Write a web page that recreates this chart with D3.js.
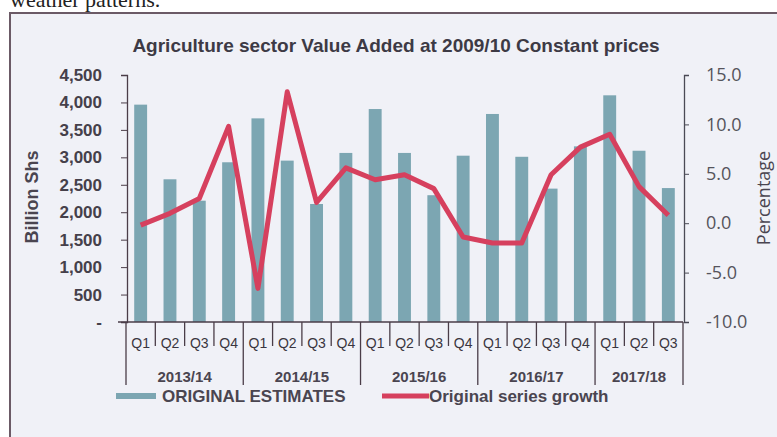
<!DOCTYPE html>
<html><head><meta charset="utf-8">
<script src="https://cdn.jsdelivr.net/npm/d3@7"></script>
<style>html,body{margin:0;padding:0;background:#fff;}svg{display:block;}</style>
</head><body>
<svg id="c" width="777" height="437"></svg>
<script>
const quarters = ["Q1","Q2","Q3","Q4","Q1","Q2","Q3","Q4","Q1","Q2","Q3","Q4","Q1","Q2","Q3","Q4","Q1","Q2","Q3"];
const years = ["2013/14","2013/14","2013/14","2013/14","2014/15","2014/15","2014/15","2014/15","2015/16","2015/16","2015/16","2015/16","2016/17","2016/17","2016/17","2016/17","2017/18","2017/18","2017/18"];
const originalEstimates = [3960,2600,2210,2910,3710,2940,2150,3080,3880,3080,2310,3030,3790,3010,2430,3200,4130,3120,2440];
const seriesGrowth = [-0.2,1.0,2.5,9.8,-6.6,13.3,2.1,5.6,4.4,4.9,3.5,-1.4,-2.0,-2.0,4.9,7.7,9.0,3.7,0.8];
const leftTicks = [0,500,1000,1500,2000,2500,3000,3500,4000,4500];
const rightTicks = [-10,-5,0,5,10,15];

const svg = d3.select("#c");
const W = 777, H = 437;
const x0 = 126, x1 = 683, yTop = 75, yBot = 322;
const SANS = "Liberation Sans, Arial, sans-serif";

// page text above frame
svg.append("text").attr("x", 10).attr("y", 7).attr("font-family", "Liberation Serif, serif")
  .attr("font-size", 22).attr("fill", "#222").text("weather patterns.");
// chart frame
svg.append("rect").attr("x", 10).attr("y", 13).attr("width", W).attr("height", H)
  .attr("fill", "#f0f1f7").attr("stroke", "#6b5a66").attr("stroke-width", 2);

// title
svg.append("text").attr("x", 396).attr("y", 52).attr("text-anchor", "middle")
  .attr("font-family", SANS).attr("font-weight", "bold")
  .attr("font-size", 19).attr("fill", "#3d3a45")
  .text("Agriculture sector Value Added at 2009/10 Constant prices");

const idx = d3.range(quarters.length);
const x = d3.scaleBand().domain(idx).range([x0, x1]).padding(0);
const bw = x.bandwidth() * 0.44;
const yL = d3.scaleLinear().domain([0, 4500]).range([yBot, yTop]);
const yR = d3.scaleLinear().domain([-10, 15]).range([yBot, yTop]);

// bars
svg.append("g").selectAll("rect").data(originalEstimates).join("rect")
  .attr("x", (d, i) => x(i) + x.bandwidth() / 2 - bw / 2)
  .attr("y", d => yL(d)).attr("width", bw).attr("height", d => yBot - yL(d))
  .attr("fill", "#7ca6b2");

// left axis
const axL = svg.append("g").attr("transform", `translate(${x0 + 1},0)`)
  .call(d3.axisLeft(yL).tickValues(leftTicks).tickSize(6).tickPadding(19)
    .tickFormat(d => d === 0 ? "-" : d3.format(",")(d)));
axL.select(".domain").attr("stroke", "#4a3d48").attr("stroke-width", 1.3);
axL.selectAll(".tick line").attr("stroke", "#4a3d48");
axL.selectAll(".tick text").attr("font-family", SANS)
  .attr("font-weight", "bold").attr("font-size", 17).attr("fill", "#45404a");

// right axis
const axR = svg.append("g").attr("transform", `translate(${x1 + 1},0)`)
  .call(d3.axisRight(yR).tickValues(rightTicks).tickSize(5).tickPadding(17)
    .tickFormat(d => d3.format(".1f")(d).replace("\u2212", "-")));
axR.select(".domain").attr("stroke", "#4a4a55").attr("stroke-width", 1.3);
axR.selectAll(".tick line").attr("stroke", "#4a4a55");
axR.selectAll(".tick text").attr("font-family", "Open Sans, sans-serif")
  .attr("font-size", 18).attr("fill", "#55545c");

// axis titles
svg.append("text").attr("transform", "translate(38,197) rotate(-90)").attr("text-anchor", "middle")
  .attr("font-family", SANS).attr("font-weight", "bold")
  .attr("font-size", 18).attr("fill", "#4a4550").text("Billion Shs");
svg.append("text").attr("transform", "translate(770,198) rotate(-90)").attr("text-anchor", "middle")
  .attr("font-family", "Open Sans, sans-serif").attr("font-size", 18).attr("fill", "#4a4550").text("Percentage");

// line
const line = d3.line().x((d, i) => x(i) + x.bandwidth() / 2).y(d => yR(d));
svg.append("path").datum(seriesGrowth).attr("d", line).attr("fill", "none")
  .attr("stroke", "#d6405e").attr("stroke-width", 5).attr("stroke-linejoin", "round");

// x axis (category)
const gx = svg.append("g");
gx.append("line").attr("x1", 118).attr("x2", x1).attr("y1", yBot).attr("y2", yBot)
  .attr("stroke", "#4a3d48").attr("stroke-width", 1.5);
const boundaries = d3.range(quarters.length + 1);
gx.selectAll("line.div").data(boundaries).join("line").attr("class", "div")
  .attr("x1", d => d < quarters.length ? x(d) : x1).attr("x2", d => d < quarters.length ? x(d) : x1)
  .attr("y1", yBot).attr("y2", d => (d === 0 || d === quarters.length || years[d] !== years[d - 1]) ? 385 : 346)
  .attr("stroke", "#4a3d48").attr("stroke-width", 1.3);
gx.selectAll("text.q").data(quarters).join("text").attr("class", "q")
  .attr("x", (d, i) => x(i) + x.bandwidth() / 2).attr("y", 348).attr("text-anchor", "middle")
  .attr("font-family", SANS).attr("font-size", 14).attr("fill", "#3a3640").text(d => d);
const groups = d3.groups(idx, i => years[i]);
gx.selectAll("text.y").data(groups).join("text").attr("class", "y")
  .attr("x", g => (x(g[1][0]) + x(g[1][g[1].length - 1]) + x.bandwidth()) / 2).attr("y", 382)
  .attr("text-anchor", "middle").attr("font-family", SANS)
  .attr("font-weight", "bold").attr("font-size", 15).attr("fill", "#4a4550").text(g => g[0]);

// legend
const lg = svg.append("g").attr("font-family", SANS)
  .attr("font-weight", "bold").attr("font-size", 17).attr("fill", "#4a4550");
lg.append("rect").attr("x", 116).attr("y", 393).attr("width", 40).attr("height", 6).attr("fill", "#7ca6b2");
lg.append("text").attr("x", 162).attr("y", 402).text("ORIGINAL ESTIMATES");
lg.append("line").attr("x1", 382).attr("x2", 429).attr("y1", 396).attr("y2", 396)
  .attr("stroke", "#d6405e").attr("stroke-width", 5);
lg.append("text").attr("x", 429).attr("y", 402).text("Original series growth");
</script>
</body></html>
